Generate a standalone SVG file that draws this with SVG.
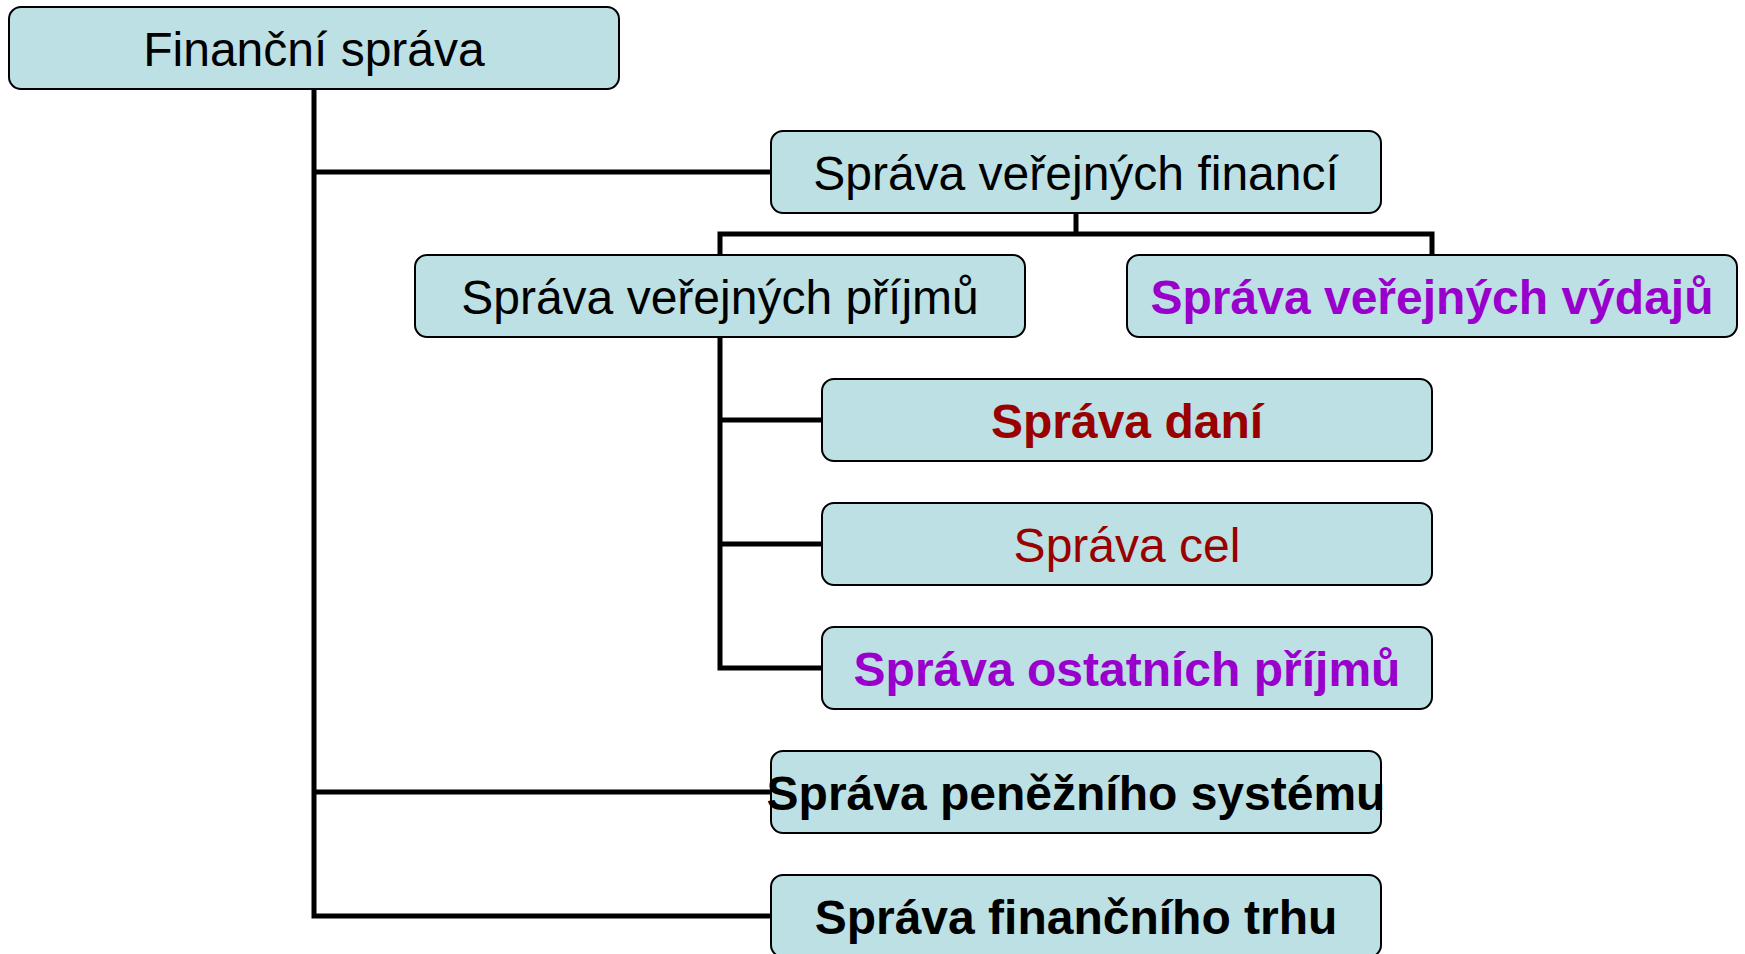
<svg xmlns="http://www.w3.org/2000/svg" width="1745" height="954" viewBox="0 0 1745 954">
<style>
.box{fill:#BCE0E3;stroke:#000;stroke-width:2}
.t{font-family:"Liberation Sans",Arial,sans-serif;font-size:48px;text-anchor:middle}
.b{font-weight:bold}
.blk{fill:#000}
.pur{fill:#9900CC}
.red{fill:#990000}
.c{fill:none;stroke:#000;stroke-width:5;stroke-linejoin:miter;stroke-linecap:butt}
</style>
<rect width="1745" height="954" fill="#fff"/>
<g id="connectors">
<polyline class="c" points="314,89 314,916 771,916"/>
<line class="c" x1="314" y1="172" x2="771" y2="172"/>
<line class="c" x1="314" y1="792" x2="771" y2="792"/>
<line class="c" x1="1076" y1="213" x2="1076" y2="234"/>
<polyline class="c" points="720,255 720,234 1432,234 1432,255"/>
<polyline class="c" points="720,337 720,668 822,668"/>
<line class="c" x1="720" y1="420" x2="822" y2="420"/>
<line class="c" x1="720" y1="544" x2="822" y2="544"/>
</g>
<g id="n-financni-sprava">
<rect class="box" x="9" y="7" width="610" height="82" rx="12"/>
<text class="t blk" x="314" y="66">Finanční správa</text>
</g>
<g id="n-sprava-verejnych-financi">
<rect class="box" x="771" y="131" width="610" height="82" rx="12"/>
<text class="t blk" x="1076" y="190">Správa veřejných financí</text>
</g>
<g id="n-sprava-verejnych-prijmu">
<rect class="box" x="415" y="255" width="610" height="82" rx="12"/>
<text class="t blk" x="720" y="314">Správa veřejných příjmů</text>
</g>
<g id="n-sprava-verejnych-vydaju">
<rect class="box" x="1127" y="255" width="610" height="82" rx="12"/>
<text class="t b pur" x="1432" y="314">Správa veřejných výdajů</text>
</g>
<g id="n-sprava-dani">
<rect class="box" x="822" y="379" width="610" height="82" rx="12"/>
<text class="t b red" x="1127" y="438">Správa daní</text>
</g>
<g id="n-sprava-cel">
<rect class="box" x="822" y="503" width="610" height="82" rx="12"/>
<text class="t red" x="1127" y="562">Správa cel</text>
</g>
<g id="n-sprava-ostatnich-prijmu">
<rect class="box" x="822" y="627" width="610" height="82" rx="12"/>
<text class="t b pur" x="1127" y="686">Správa ostatních příjmů</text>
</g>
<g id="n-sprava-penezniho-systemu">
<rect class="box" x="771" y="751" width="610" height="82" rx="12"/>
<text class="t b blk" x="1076" y="810">Správa peněžního systému</text>
</g>
<g id="n-sprava-financniho-trhu">
<rect class="box" x="771" y="875" width="610" height="82" rx="12"/>
<text class="t b blk" x="1076" y="934">Správa finančního trhu</text>
</g>
</svg>
